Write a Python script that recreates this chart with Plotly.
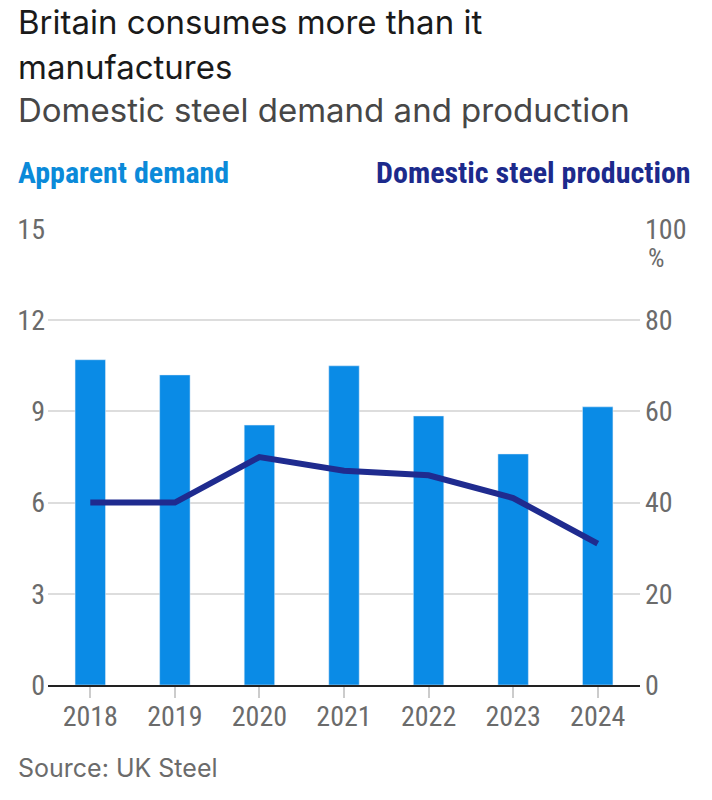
import plotly.graph_objects as go

years = ["2018", "2019", "2020", "2021", "2022", "2023", "2024"]
apparent_demand = [10.7, 10.2, 8.55, 10.5, 8.85, 7.6, 9.15]
domestic_production_pct = [40.0, 40.0, 50.0, 47.0, 46.0, 41.0, 31.0]
left_ticks = [0, 3, 6, 9, 12, 15]
right_ticks = [0, 20, 40, 60, 80, 100]

title_line1 = "Britain consumes more than it"
title_line2 = "manufactures"
subtitle = "Domestic steel demand and production"
legend_left = "Apparent demand"
legend_right = "Domestic steel production"
source = "Source: UK Steel"

BAR = "#0a8be6"
LINE = "#1f2b8f"
GRAY = "#6b6b6b"
NARROW = "Liberation Sans Narrow, Roboto Condensed, Arial Narrow, Roboto, sans-serif"
SANS = "Inter, Roboto, Noto Sans, sans-serif"

W, H = 712, 800
L, R, T, B = 48, 72, 229, 115
PW, PH = W - L - R, H - T - B


def px(x):
    return (x - L) / PW


def py(y):
    return (H - B - y) / PH


fig = go.Figure()
fig.add_trace(go.Bar(x=years, y=apparent_demand, marker_color=BAR, width=0.36,
                     name=legend_left, showlegend=False))
fig.add_trace(go.Scatter(x=years, y=domestic_production_pct, yaxis="y2", mode="lines",
                         line=dict(color=LINE, width=6), name=legend_right, showlegend=False))

annotations = [
    dict(text=title_line1, x=px(16), y=py(0), xanchor="left", yanchor="top",
         font=dict(family=SANS, size=33, color="#1a1a1a")),
    dict(text=title_line2, x=px(16), y=py(45), xanchor="left", yanchor="top",
         font=dict(family=SANS, size=33, color="#1a1a1a")),
    dict(text=subtitle, x=px(16), y=py(88), xanchor="left", yanchor="top",
         font=dict(family=SANS, size=33, color="#474747")),
    dict(text="<b>" + legend_left + "</b>", x=px(16), y=py(172), xanchor="left", yanchor="middle",
         font=dict(family=NARROW, size=30, color="#0b8ad9")),
    dict(text="<b>" + legend_right + "</b>", x=px(693), y=py(172), xanchor="right", yanchor="middle",
         font=dict(family=NARROW, size=30, color="#1c2a8c")),
    dict(text="%", x=px(646), y=py(258), xanchor="left", yanchor="middle",
         font=dict(family=NARROW, size=26, color=GRAY)),
    dict(text=source, x=px(16), y=py(768), xanchor="left", yanchor="middle",
         font=dict(family=SANS, size=25, color=GRAY)),
]
for a in annotations:
    a.update(xref="paper", yref="paper", showarrow=False)

fig.update_layout(
    width=W, height=H,
    margin=dict(l=L, r=R, t=T, b=B, pad=0),
    paper_bgcolor="white", plot_bgcolor="white",
    showlegend=False,
    annotations=annotations,
    xaxis=dict(
        type="category", range=[-0.5, 6.5],
        showgrid=False, showline=True, linecolor="#222", linewidth=2,
        ticks="outside", ticklen=11, tickcolor="#cccccc", tickwidth=1.5,
        tickfont=dict(family=NARROW, size=28, color=GRAY),
        ticklabelstandoff=-6,
        fixedrange=True,
    ),
    yaxis=dict(
        range=[0, 15], tickvals=left_ticks, showgrid=True, gridcolor="#dddddd", gridwidth=2,
        zeroline=False, showline=False, ticks="",
        tickfont=dict(family=NARROW, size=28, color=GRAY),
        ticklabelstandoff=2,
    ),
    yaxis2=dict(
        range=[0, 100], tickvals=right_ticks, overlaying="y", side="right",
        showgrid=False, zeroline=False, showline=False, ticks="",
        tickfont=dict(family=NARROW, size=28, color=GRAY),
        ticklabelstandoff=4,
    ),
)

fig.write_html("out.html")
